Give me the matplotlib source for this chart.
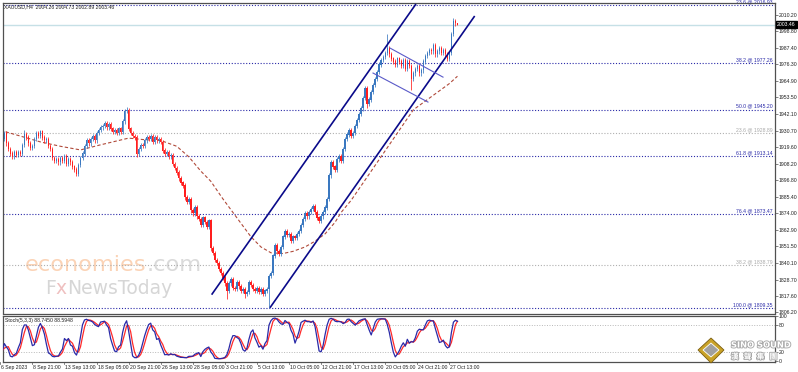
import matplotlib
matplotlib.use("Agg")
import matplotlib.pyplot as plt
import matplotlib.transforms as mtrans
import matplotlib.patheffects as pe
from matplotlib.patches import Polygon
import numpy as np
import pandas as pd

plt.rcParams["font.family"] = ["Liberation Sans", "DejaVu Sans"]

# ---------------- data ----------------
closes = [
    1927, 1925, 1929, 1922, 1918, 1915, 1913, 1916, 1914, 1916,
    1915, 1921, 1928, 1926, 1922, 1919, 1920, 1925, 1929, 1927,
    1930, 1926, 1924, 1925, 1920, 1918, 1912, 1910, 1911, 1909,
    1912, 1910, 1913, 1908, 1911, 1909, 1906, 1904, 1901, 1907,
    1912, 1915, 1920, 1924, 1922, 1925, 1927, 1924, 1929, 1931,
    1933, 1934, 1936, 1933, 1935, 1932, 1930, 1931, 1929, 1932,
    1930, 1937, 1944, 1945, 1932, 1929, 1927, 1926, 1915, 1918,
    1921, 1920, 1924, 1926, 1925, 1927, 1923, 1926, 1924, 1925,
    1923, 1917, 1915, 1916, 1913, 1914, 1908, 1905, 1902, 1898,
    1895, 1893, 1885, 1882, 1884, 1876, 1874, 1878, 1872, 1870,
    1866, 1871, 1868, 1865, 1869, 1850, 1847, 1842, 1840, 1836,
    1833, 1830, 1826, 1821, 1826, 1829, 1823, 1822, 1827, 1824,
    1821, 1822, 1819, 1820, 1827, 1825, 1822, 1821, 1823, 1820,
    1822, 1819, 1821, 1822, 1831, 1833, 1845, 1852, 1848, 1846,
    1851, 1858, 1862, 1859, 1860, 1855, 1858, 1857, 1860, 1862,
    1866, 1870, 1874, 1872, 1875, 1877, 1879, 1875, 1871, 1869,
    1872, 1875, 1878, 1884, 1900, 1909, 1906, 1904, 1911, 1913,
    1910, 1918, 1925, 1928, 1931, 1927, 1929, 1934, 1938, 1942,
    1946, 1953, 1960, 1949, 1952, 1957, 1962, 1966, 1971, 1976,
    1979, 1981, 1984, 1987, 1983, 1980, 1978, 1976, 1980, 1978,
    1975, 1979, 1973, 1978, 1975, 1966, 1970, 1973, 1975, 1970,
    1972, 1978, 1982, 1984, 1986, 1985, 1989, 1983, 1985, 1987,
    1984, 1986, 1983, 1980, 1984, 1997, 2006, 2004.26, 2003.46,
]
first_open = 1930.0
last_open = 2004.26
spike_highs = {12: 1931.0, 63: 1947.0, 193: 1997.0, 226: 2008.0, 228: 2004.73}
spike_lows = {68: 1912.5, 113: 1815.0, 122: 1816.0, 134: 1809.35, 205: 1958.5,
              183: 1946.0, 228: 2002.89}
default_wick = 1.5

ma_bars = [0, 10, 20, 30, 40, 50, 64, 72, 80, 88, 94, 100, 105, 111, 118, 125, 130,
           135, 141, 146, 152, 157, 162, 167, 170, 175, 180, 185, 190, 195, 200, 206,
           212, 218, 224, 228]
ma_vals = [1931, 1927, 1923, 1920, 1917.5, 1921, 1925.6, 1924.5, 1924, 1920, 1912.8,
           1903, 1896, 1884, 1871, 1858, 1851, 1847, 1846.5, 1848, 1851, 1855, 1860,
           1868, 1874.7, 1883, 1893, 1903, 1913, 1923, 1933, 1945, 1951, 1957, 1963,
           1968]

fib_blue_levels = ["23.6", "38.2", "50.0", "61.8", "76.4", "100.0"]
fib_blue_prices = [2016.93, 1977.26, 1945.20, 1913.14, 1873.47, 1809.35]
fib_gray_levels = ["23.6", "38.2"]
fib_gray_prices = [1928.89, 1838.79]

price_ticks = [2010.20, 1998.80, 1987.40, 1976.30, 1964.90, 1953.50, 1942.10,
               1930.70, 1919.60, 1908.20, 1896.80, 1885.40, 1874.00, 1862.90,
               1851.50, 1840.10, 1828.70, 1817.60, 1806.20]
current_price = 2003.46
header_text = "XAUUSD,H4  2004.26 2004.73 2002.89 2003.46"
stoch_text = "Stoch(5,3,3) 88.7450 88.5948"

time_label_bars = [0, 16, 32, 48, 64, 80, 96, 112, 128, 144, 160, 176, 192, 208, 224]
time_labels = ["6 Sep 2023", "8 Sep 21:00", "13 Sep 13:00", "18 Sep 05:00",
               "20 Sep 21:00", "26 Sep 13:00", "28 Sep 05:00", "3 Oct 21:00",
               "5 Oct 13:00", "10 Oct 05:00", "12 Oct 21:00", "17 Oct 13:00",
               "20 Oct 05:00", "24 Oct 21:00", "27 Oct 13:00"]

channel_upper = [(105.4, 1818.3), (207.3, 2017.5)]
channel_lower = [(134.5, 1809.35), (236.6, 2009.3)]
flag_lines = [
    [(194.4, 1987.3), (220.8, 1967.4)],
    [(185.9, 1970.2), (213.3, 1950.3)],
]

stoch_k_period, stoch_slowing, stoch_d_period = 5, 3, 3

# ---------------- derived OHLC ----------------
c = np.array(closes, dtype=float)
n = len(c)
o = np.concatenate([[first_open], c[:-1]])
o[-1] = last_open
h = np.maximum(o, c) + default_wick
l = np.minimum(o, c) - default_wick
for k, v in spike_highs.items():
    h[k] = v
for k, v in spike_lows.items():
    l[k] = v
bars = np.arange(n)

hs, ls, cs = pd.Series(h), pd.Series(l), pd.Series(c)
hh = hs.rolling(stoch_k_period, min_periods=1).max()
ll = ls.rolling(stoch_k_period, min_periods=1).min()
num = (cs - ll).rolling(stoch_slowing, min_periods=1).sum()
den = (hh - ll).rolling(stoch_slowing, min_periods=1).sum()
k_line = 100 * num / den
d_line = k_line.rolling(stoch_d_period, min_periods=1).mean()

# ---------------- figure ----------------
W, H = 798, 372
fig = plt.figure(figsize=(W / 100, H / 100), dpi=100)
fig.patch.set_facecolor("white")

def px_axes(x0, y0, x1, y1):
    return fig.add_axes([x0 / W, 1 - y1 / H, (x1 - x0) / W, (y1 - y0) / H])

ax = px_axes(2.5, 3, 774.5, 313.5)
ax2 = px_axes(2.5, 315.5, 774.5, 361.5)

x_left = (2.5 - 0.3) / 2.005
x_right = (774.5 - 0.3) / 2.005
ylo, yhi = 1805.4, 2018.2

FS = 3.7
axis_col = "#505050"
txt_col = "#202020"
for a in (ax, ax2):
    a.set_facecolor("white")
    a.set_xlim(x_left, x_right)
    for s in a.spines.values():
        s.set_color(axis_col)
        s.set_linewidth(0.9)
    a.tick_params(axis="x", bottom=False, labelbottom=False)
    a.yaxis.tick_right()
    a.tick_params(axis="y", length=2, width=0.5, color=axis_col, labelsize=FS,
                  pad=1.2, labelcolor=txt_col)
ax.set_ylim(ylo, yhi)
ax.set_yticks(price_ticks)
ax.set_yticklabels([f"{v:.2f}" for v in price_ticks])

# watermark
def chain_text(x0, y0, parts, size):
    x = x0
    for s, col in parts:
        t = ax.text(x, y0, s, fontsize=size, color=col, ha="left", va="center",
                    zorder=0, family="DejaVu Sans")
        fig.canvas.draw()
        bb = t.get_window_extent(fig.canvas.get_renderer())
        x = ax.transData.inverted().transform((bb.x1, 0))[0]

chain_text(12.3, 1838.4, [("economies", "#fbd3b6"), (".com", "#dadada")], 16.2)
chain_text(22.2, 1822.7, [("F", "#d6d6d6"), ("x", "#efc0c0"),
                          ("NewsToday", "#d6d6d6")], 13.5)

# fib lines
for lev, p in zip(fib_blue_levels, fib_blue_prices):
    ax.axhline(p, color="#2a2aa8", lw=0.8, ls=(0, (1, 1.6)), zorder=1)
    ax.text(x_right - 1, p + 0.5, f"{lev} @ {p:.2f}", fontsize=FS, color="#2a2aa8",
            ha="right", va="bottom", zorder=2)
for lev, p in zip(fib_gray_levels, fib_gray_prices):
    ax.axhline(p, color="#b0b0b0", lw=0.8, ls=(0, (1, 1.6)), zorder=1)
    ax.text(x_right - 1, p + 0.5, f"{lev} @ {p:.2f}", fontsize=FS, color="#a8a8a8",
            ha="right", va="bottom", zorder=2)

# current price line
ax.axhline(current_price, color="#c6e0e6", lw=1.0, zorder=1)

# moving average
ax.plot(ma_bars, ma_vals, color="#b04a3a", lw=0.8, ls=(0, (3, 2)), zorder=2)

# candles
up = c >= o
col_up, col_dn = "#3a78c0", "#ff1e1e"
colors = np.where(up, col_up, col_dn)
ax.vlines(bars, l, h, colors=colors, lw=0.55, zorder=3)
ax.bar(bars, np.abs(c - o) + 0.2, bottom=np.minimum(o, c), width=0.75,
       color=colors, edgecolor="none", zorder=4)

# channels
for seg in (channel_upper, channel_lower):
    xs, ys = zip(*seg)
    ax.plot(xs, ys, color="#0a0a8a", lw=1.2, zorder=5, solid_capstyle="butt")
for seg in flag_lines:
    xs, ys = zip(*seg)
    ax.plot(xs, ys, color="#5a5ac8", lw=0.8, zorder=5)

# header
ax.text(0.002, 0.997, header_text, transform=ax.transAxes,
        fontsize=FS, color=txt_col, ha="left", va="top", zorder=6)

# current price label box
ax.text(1.0035, current_price, f"{current_price:.2f}",
        transform=mtrans.blended_transform_factory(ax.transAxes, ax.transData),
        fontsize=FS, color="white", ha="left", va="center", clip_on=False,
        bbox=dict(boxstyle="square,pad=0.15", fc="black", ec="black"), zorder=7)

# stochastic panel
ax2.set_ylim(-1.5, 101.5)
ax2.set_yticks([100, 80, 20, 0])
ax2.set_yticklabels(["100", "80", "20", "0"])
for lvl in (80, 20):
    ax2.axhline(lvl, color="#b8b8b8", lw=0.7, ls=(0, (1, 1.6)), zorder=1)
ax2.plot(bars, d_line, color="#ff2a2a", lw=0.9, zorder=3)
ax2.plot(bars, k_line, color="#2a2aa8", lw=0.9, zorder=4)
ax2.text(0.003, 0.95, stoch_text, transform=ax2.transAxes,
         fontsize=FS, color=txt_col, ha="left", va="top", zorder=6)

# time axis
bt = mtrans.blended_transform_factory(ax2.transData, ax2.transAxes)
for b, lab in zip(time_label_bars, time_labels):
    ax2.plot([b, b], [0, -0.06], transform=bt, color=axis_col, lw=0.5, clip_on=False)
    ax2.text(b + 0.5, -0.07, lab, transform=bt, fontsize=FS, color=txt_col,
             ha="left", va="top", clip_on=False)

# SINO SOUND logo (bottom right)
fx = fig.transFigure
def fxy(x, y):
    return (x / W, 1 - y / H)
dia_outer = [fxy(711, 338), fxy(724, 350), fxy(711, 363), fxy(698, 350)]
dia_inner = [fxy(711, 343), fxy(719, 350), fxy(711, 357), fxy(703, 350)]
fig.patches.append(Polygon(dia_outer, closed=True, transform=fx, fc="#c9a227",
                           ec="#7a5d10", lw=0.6, zorder=10))
fig.patches.append(Polygon(dia_inner, closed=True, transform=fx, fc="#a0a0a0",
                           ec="#ffffff", lw=0.6, zorder=11))
stroke = [pe.withStroke(linewidth=1.3, foreground="#a8a8a8")]
fig.text(*fxy(731, 345), "SINO SOUND", fontsize=6.0, fontweight="bold", color="white",
         ha="left", va="center", path_effects=stroke, zorder=12,
         family=["DejaVu Sans"])
fig.text(*fxy(731, 356.5), "漢   聲   集   團", fontsize=5.5, color="white",
         family=["Noto Sans CJK TC", "DejaVu Sans"], fontweight="bold",
         ha="left", va="center", path_effects=stroke, zorder=12)

fig.savefig("out.png", dpi=100, facecolor="white")
